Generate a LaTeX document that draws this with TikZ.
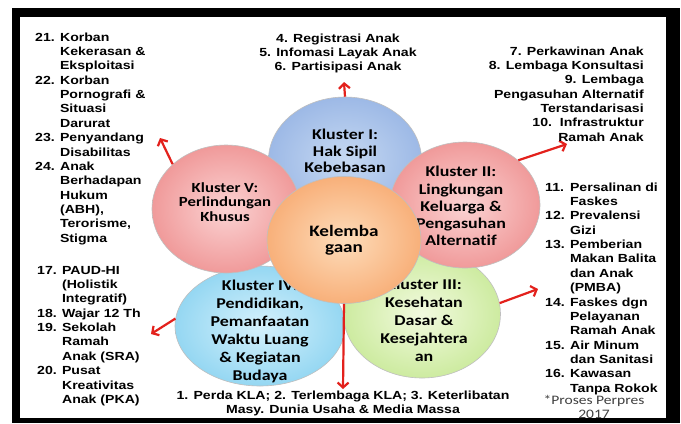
\documentclass[tikz,border=0pt]{standalone}
\usepackage{fontspec}
\setmainfont{Liberation Sans}
\newfontfamily\calfont[Ligatures=NoCommon]{Carlito}
\usetikzlibrary{shapes.geometric,arrows.meta}

\definecolor{arrowred}{HTML}{E3211C}
\definecolor{blueIn}{HTML}{C6D9F2}
\definecolor{blueOut}{HTML}{9DB9E6}
\definecolor{pinkIn}{HTML}{FBD3D3}
\definecolor{pinkOut}{HTML}{F09A9A}
\definecolor{orangeIn}{HTML}{FDDCBA}
\definecolor{orangeOut}{HTML}{F8B07A}
\definecolor{cyanIn}{HTML}{D5F1FC}
\definecolor{cyanOut}{HTML}{95D7F2}
\definecolor{greenIn}{HTML}{F2FADF}
\definecolor{greenOut}{HTML}{CDEBA0}

\newcommand\sidefont{\fontsize{11.8}{14.4}\selectfont\bfseries}
\newcommand\klfont[2]{\fontsize{#1}{#2}\selectfont\calfont\bfseries}

\begin{document}
\begin{tikzpicture}[x=1bp,y=-1bp,>={Straight Barb[length=5bp,width=11bp]},
    kluster/.style={ellipse,draw=black!25,line width=0.6bp,inner sep=0pt},
    kltext/.style={inner sep=0pt,xscale=1.2},
    sidelist/.style={inner sep=0pt,xscale=1.2,font=\sidefont},
    redarrow/.style={->,arrowred,line width=2.2bp}]
    \useasboundingbox (0,0) rectangle (681,423);
    \fill[black] (12,8) rectangle (680,423);
    \fill[white] (20,17) rectangle (666,418);

    \node (k4) at (260,326) [kluster,inner color=cyanIn,outer color=cyanOut,minimum width=170bp,minimum height=120bp]{};
    \node (k4text) at (260,332) [kltext,font={\klfont{15}{18.2}}]{\begin{tabular}{@{}c@{}}Kluster IV:\\Pendidikan,\\Pemanfaatan\\Waktu Luang\\\& Kegiatan\\Budaya\end{tabular}};
    \node (k3) at (422,314) [kluster,inner color=greenIn,outer color=greenOut,minimum width=157bp,minimum height=128bp]{};
    \node (k3text) at (424,322) [kltext,font={\klfont{15}{18}}]{\begin{tabular}{@{}c@{}}Kluster III:\\Kesehatan\\Dasar \&\\Kesejahtera\\an\end{tabular}};
    \node (k1) at (345,160) [kluster,inner color=blueIn,outer color=blueOut,minimum width=153bp,minimum height=126bp]{};
    \node (k1text) at (345,153) [kltext,font={\klfont{15}{16.5}}]{\begin{tabular}{@{}c@{}}Kluster I:\\Hak Sipil\\Kebebasan\end{tabular}};
    \node (k5) at (226,209) [kluster,inner color=pinkIn,outer color=pinkOut,minimum width=148bp,minimum height=128bp]{};
    \node (k5text) at (225,204) [kltext,font={\klfont{14}{14.5}}]{\begin{tabular}{@{}c@{}}Kluster V:\\Perlindungan\\Khusus\end{tabular}};
    \node (k2) at (465,205) [kluster,inner color=pinkIn,outer color=pinkOut,minimum width=150bp,minimum height=126bp]{};
    \node (k2text) at (461,208) [kltext,font={\klfont{15}{17.3}}]{\begin{tabular}{@{}c@{}}Kluster II:\\Lingkungan\\Keluarga \&\\Pengasuhan\\Alternatif\end{tabular}};
    \node (kc) at (344,240) [kluster,inner color=orangeIn,outer color=orangeOut,minimum width=154bp,minimum height=127bp]{};
    \node (kctext) at (344,241) [kltext,font={\klfont{16}{16.5}}]{\begin{tabular}{@{}c@{}}Kelemba\\gaan\end{tabular}};

    \coordinate (t1) at (344,82);
    \coordinate (t2) at (567,144);
    \coordinate (t3) at (538,289);
    \coordinate (t4) at (151,334);
    \coordinate (t5) at (160,138);
    \coordinate (t0) at (343,389);
    \draw[redarrow] (k1.north) -- (t1);
    \draw[redarrow] (k2.40) -- (t2);
    \draw[redarrow] (k3.8) -- (t3);
    \draw[redarrow] (k4.175) -- (t4);
    \draw[redarrow] (k5.140) -- (t5);
    \draw[redarrow] (kc.south) -- (t0);

    \node (listI) at (338,32) [sidelist,anchor=north]{\begin{tabular}{@{}c@{}}4. Registrasi Anak\\5. Infomasi Layak Anak\\6. Partisipasi Anak\end{tabular}};
    \node (listII) at (644,45) [sidelist,anchor=north east]{\begin{tabular}{@{}r@{}}7. Perkawinan Anak\\8. Lembaga Konsultasi\\9. Lembaga\\Pengasuhan Alternatif\\Terstandarisasi\\10.\ \ Infrastruktur\\Ramah Anak\end{tabular}};
    \node (listIII) at (545,181) [sidelist,anchor=north west]{\begin{tabular}{@{}l@{ }l@{}}11. & Persalinan di\\ & Faskes\\12. & Prevalensi\\ & Gizi\\13. & Pemberian\\ & Makan Balita\\ & dan Anak\\ & (PMBA)\\14. & Faskes dgn\\ & Pelayanan\\ & Ramah Anak\\15. & Air Minum\\ & dan Sanitasi\\16. & Kawasan\\ & Tanpa Rokok\end{tabular}};
    \node (listIV) at (37,264) [sidelist,anchor=north west]{\begin{tabular}{@{}l@{ }l@{}}17. & PAUD-HI\\ & (Holistik\\ & Integratif)\\18. & Wajar 12 Th\\19. & Sekolah\\ & Ramah\\ & Anak (SRA)\\20. & Pusat\\ & Kreativitas\\ & Anak (PKA)\end{tabular}};
    \node (listV) at (35,31) [sidelist,anchor=north west]{\begin{tabular}{@{}l@{ }l@{}}21. & Korban\\ & Kekerasan \&\\ & Eksploitasi\\22. & Korban\\ & Pornografi \&\\ & Situasi\\ & Darurat\\23. & Penyandang\\ & Disabilitas\\24. & Anak\\ & Berhadapan\\ & Hukum\\ & (ABH),\\ & Terorisme,\\ & Stigma\end{tabular}};
    \node (listC) at (343,389) [sidelist,anchor=north,font=\fontsize{11.8}{14.6}\selectfont\bfseries]{\begin{tabular}{@{}c@{}}1. Perda KLA; 2. Terlembaga KLA; 3. Keterlibatan\\Masy. Dunia Usaha \& Media Massa\end{tabular}};
    \node (perpres) at (594,395) [kltext,anchor=north,text=black!75,font=\fontsize{13}{13.5}\selectfont\calfont]{\begin{tabular}{@{}c@{}}*Proses Perpres\\2017\end{tabular}};
\end{tikzpicture}
\end{document}
